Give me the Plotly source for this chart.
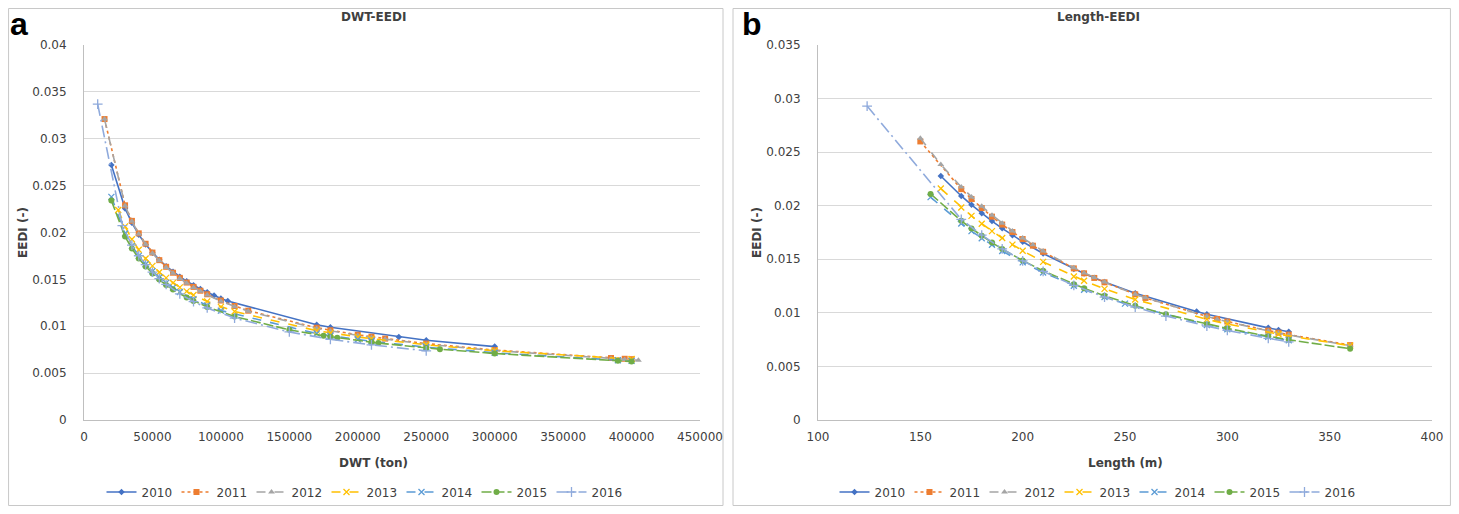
import plotly.graph_objects as go

# reference canvas 1459x514; the page body has an 8px margin, so the figure is 16px smaller
REF_W, REF_H = 1459, 514
OFF = 8
W, H = REF_W - 2 * OFF, REF_H - 2 * OFF

years = ["2010", "2011", "2012", "2013", "2014", "2015", "2016"]

# ---------------- Panel a : DWT - EEDI ----------------
dwt_2010 = [20000, 30000, 35000, 40000, 45000, 50000, 55000, 60000, 65000, 70000, 75000, 80000, 85000,
            90000, 95000, 100000, 105000, 170000, 180000, 230000, 250000, 300000]
eedi_a_2010 = [0.0272, 0.02257, 0.02103, 0.01977, 0.01873, 0.01785, 0.01708, 0.01641, 0.01581, 0.01529,
               0.01481, 0.01438, 0.01398, 0.01362, 0.01328, 0.01297, 0.01269, 0.01016, 0.00990, 0.00885,
               0.00851, 0.00783]

dwt_2011 = [15000, 30000, 35000, 40000, 45000, 50000, 55000, 60000, 65000, 70000, 75000, 80000, 85000,
            90000, 100000, 110000, 120000, 170000, 180000, 200000, 210000, 220000, 250000, 300000,
            385000, 395000, 400000]
eedi_a_2011 = [0.0321, 0.0229, 0.02124, 0.01991, 0.01880, 0.01786, 0.01705, 0.01634, 0.01571, 0.01516,
               0.01466, 0.01420, 0.01379, 0.01341, 0.01274, 0.01216, 0.01166, 0.00984, 0.00957, 0.00909,
               0.00888, 0.00868, 0.00815, 0.00746, 0.00661, 0.00653, 0.00649]

dwt_2012 = [15000, 30000, 35000, 40000, 45000, 50000, 55000, 60000, 65000, 70000, 75000, 80000, 85000,
            90000, 100000, 110000, 120000, 170000, 180000, 200000, 210000, 220000, 250000, 300000,
            385000, 395000, 405000]
eedi_a_2012 = [0.0321, 0.02286, 0.02119, 0.01985, 0.01874, 0.01779, 0.01698, 0.01627, 0.01565, 0.01509,
               0.01459, 0.01413, 0.01372, 0.01334, 0.01267, 0.01209, 0.01159, 0.00977, 0.00950, 0.00902,
               0.00881, 0.00861, 0.00809, 0.00740, 0.00655, 0.00646, 0.00638]

dwt_2013 = [25000, 30000, 35000, 40000, 45000, 50000, 55000, 60000, 65000, 70000, 75000, 80000, 90000,
            100000, 110000, 170000, 180000, 200000, 210000, 250000, 300000, 400000]
eedi_a_2013 = [0.0224, 0.02065, 0.01928, 0.01816, 0.01723, 0.01644, 0.01576, 0.01516, 0.01463, 0.01415,
               0.01372, 0.01333, 0.01265, 0.01207, 0.01157, 0.00953, 0.00929, 0.00886, 0.00867, 0.00802,
               0.00739, 0.00650]

dwt_2014 = [20000, 30000, 35000, 40000, 45000, 50000, 55000, 60000, 65000, 70000, 80000, 90000, 100000,
            170000, 180000, 200000, 210000, 250000, 300000, 390000, 400000]
eedi_a_2014 = [0.0238, 0.01989, 0.01857, 0.01751, 0.01662, 0.01586, 0.01520, 0.01463, 0.01412, 0.01366,
               0.01288, 0.01222, 0.01167, 0.00922, 0.00899, 0.00858, 0.00840, 0.00777, 0.00717, 0.00638,
               0.00631]

dwt_2015 = [20000, 30000, 35000, 40000, 45000, 50000, 55000, 60000, 65000, 75000, 80000, 90000, 110000,
            150000, 175000, 180000, 185000, 210000, 215000, 250000, 260000, 300000, 390000, 400000]
eedi_a_2015 = [0.0234, 0.01957, 0.01828, 0.01724, 0.01637, 0.01562, 0.01498, 0.01441, 0.01392, 0.01306,
               0.01270, 0.01206, 0.01103, 0.00962, 0.00899, 0.00888, 0.00877, 0.00830, 0.00821, 0.00768,
               0.00755, 0.00709, 0.00631, 0.00624]

dwt_2016 = [10000, 28000, 35000, 40000, 45000, 50000, 55000, 60000, 70000, 80000, 90000, 110000, 150000,
            180000, 210000, 250000]
eedi_a_2016 = [0.0337, 0.02073, 0.01866, 0.01752, 0.01657, 0.01577, 0.01507, 0.01447, 0.01345, 0.01263,
               0.01195, 0.01087, 0.00939, 0.00861, 0.00801, 0.00738]

# ---------------- Panel b : Length - EEDI ----------------
len_2010 = [160, 170, 175, 180, 185, 190, 195, 200, 210, 225, 230, 240, 255, 285, 290, 320, 325, 330]
eedi_b_2010 = [0.02277, 0.02091, 0.02008, 0.01930, 0.01857, 0.01789, 0.01725, 0.01664, 0.01554, 0.01410,
               0.01367, 0.01288, 0.01183, 0.01012, 0.00987, 0.00860, 0.00841, 0.00823]

len_2011 = [150, 170, 175, 180, 185, 190, 195, 200, 205, 210, 225, 230, 235, 240, 255, 260, 290, 295, 300,
            320, 325, 330, 360]
eedi_b_2011 = [0.02600, 0.02155, 0.02063, 0.01978, 0.01898, 0.01824, 0.01754, 0.01689, 0.01627, 0.01570,
               0.01415, 0.01369, 0.01326, 0.01285, 0.01173, 0.01139, 0.00967, 0.00943, 0.00919, 0.00834,
               0.00815, 0.00797, 0.00699]

len_2012 = [150, 160, 170, 175, 180, 185, 190, 195, 200, 205, 210, 225, 230, 235, 240, 255, 260, 290, 295,
            300, 320, 325, 330, 360]
eedi_b_2012 = [0.02630, 0.02385, 0.02174, 0.02081, 0.01994, 0.01912, 0.01836, 0.01765, 0.01698, 0.01636,
               0.01577, 0.01420, 0.01373, 0.01329, 0.01287, 0.01174, 0.01140, 0.00966, 0.00941, 0.00917,
               0.00831, 0.00812, 0.00793, 0.00695]

len_2013 = [160, 170, 175, 180, 185, 190, 195, 200, 210, 225, 230, 240, 255, 290, 300, 325, 360]
eedi_b_2013 = [0.02160, 0.01984, 0.01905, 0.01832, 0.01763, 0.01698, 0.01637, 0.01580, 0.01476, 0.01340,
               0.01300, 0.01224, 0.01125, 0.00939, 0.00896, 0.00801, 0.00694]

len_2014 = [155, 170, 175, 180, 185, 190, 200, 210, 225, 230, 240, 250, 290, 300, 320, 330]
eedi_b_2014 = [0.02080, 0.01834, 0.01763, 0.01697, 0.01635, 0.01577, 0.01471, 0.01376, 0.01253, 0.01216,
               0.01148, 0.01086, 0.00887, 0.00847, 0.00776, 0.00744]

len_2015 = [155, 170, 175, 180, 185, 190, 200, 210, 225, 230, 240, 255, 270, 290, 300, 320, 330, 360]
eedi_b_2015 = [0.02110, 0.01859, 0.01787, 0.01719, 0.01656, 0.01596, 0.01488, 0.01392, 0.01266, 0.01229,
               0.01159, 0.01067, 0.00986, 0.00894, 0.00854, 0.00782, 0.00749, 0.00665]

len_2016 = [124, 170, 180, 190, 200, 210, 225, 240, 255, 270, 290, 300, 320, 330]
eedi_b_2016 = [0.02930, 0.01872, 0.01726, 0.01598, 0.01486, 0.01387, 0.01257, 0.01147, 0.01053, 0.00970,
               0.00877, 0.00836, 0.00762, 0.00730]

x_a_ticks = [0, 50000, 100000, 150000, 200000, 250000, 300000, 350000, 400000, 450000]
y_a_ticks = [0, 0.005, 0.01, 0.015, 0.02, 0.025, 0.03, 0.035, 0.04]
x_b_ticks = [100, 150, 200, 250, 300, 350, 400]
y_b_ticks = [0, 0.005, 0.01, 0.015, 0.02, 0.025, 0.03, 0.035]

# ---------------- styling ----------------
styles = {
    "2010": dict(color="#4472C4", dash="solid", symbol="diamond", msize=5),
    "2011": dict(color="#ED7D31", dash="dot", symbol="square", msize=6),
    "2012": dict(color="#A5A5A5", dash="dash", symbol="triangle-up", msize=6),
    "2013": dict(color="#FFC000", dash="dash", symbol="x-thin", msize=6),
    "2014": dict(color="#5B9BD5", dash="dash", symbol="x-thin", msize=6),
    "2015": dict(color="#70AD47", dash="10px,3px", symbol="circle", msize=6),
    "2016": dict(color="#8FAADC", dash="12px,4px,2px,4px", symbol="cross-thin", msize=7),
}

FONT = "DejaVu Sans"
TXT = "#404040"


def px_x(p):
    return min(max((p - OFF) / W, 0), 1)


def px_y(p):
    return min(max(1 - (p - OFF) / H, 0), 1)


panel_a = {"2010": (dwt_2010, eedi_a_2010), "2011": (dwt_2011, eedi_a_2011), "2012": (dwt_2012, eedi_a_2012),
           "2013": (dwt_2013, eedi_a_2013), "2014": (dwt_2014, eedi_a_2014), "2015": (dwt_2015, eedi_a_2015),
           "2016": (dwt_2016, eedi_a_2016)}
panel_b = {"2010": (len_2010, eedi_b_2010), "2011": (len_2011, eedi_b_2011), "2012": (len_2012, eedi_b_2012),
           "2013": (len_2013, eedi_b_2013), "2014": (len_2014, eedi_b_2014), "2015": (len_2015, eedi_b_2015),
           "2016": (len_2016, eedi_b_2016)}

fig = go.Figure()


def add(series, xa, ya, leg):
    for y in years:
        xs, ys = series[y]
        s = styles[y]
        thin = s["symbol"].endswith("thin")
        fig.add_trace(go.Scatter(
            x=xs, y=ys, name=y, mode="lines+markers",
            xaxis=xa, yaxis=ya, legend=leg,
            line=dict(color=s["color"], width=1.6, dash=s["dash"]),
            marker=dict(symbol=s["symbol"], size=s["msize"], color=s["color"],
                        line=dict(color=s["color"], width=1.3 if thin else 0)),
        ))


add(panel_a, "x", "y", "legend")
add(panel_b, "x2", "y2", "legend2")

ax_common = dict(showline=True, linecolor="#BFBFBF", linewidth=1, zeroline=False, ticks="",
                 automargin=False, tickfont=dict(family=FONT, size=12, color=TXT))

fig.update_layout(
    width=W, height=H,
    margin=dict(l=0, r=0, t=0, b=0, pad=0, autoexpand=False),
    paper_bgcolor="white", plot_bgcolor="white",
    font=dict(family=FONT, size=12, color=TXT),
    xaxis=dict(domain=[px_x(84), px_x(700)], range=[0, 450000], tickvals=x_a_ticks,
               ticktext=[str(v) for v in x_a_ticks], showgrid=False, anchor="y",
               ticklabelstandoff=6, **ax_common),
    yaxis=dict(domain=[px_y(420), px_y(45)], range=[0, 0.04], tickvals=y_a_ticks,
               ticktext=[f"{v:g}" for v in y_a_ticks], showgrid=True, gridcolor="#D9D9D9",
               anchor="x", ticklabelstandoff=14, **ax_common),
    xaxis2=dict(domain=[px_x(818), px_x(1432)], range=[100, 400], tickvals=x_b_ticks,
                ticktext=[str(v) for v in x_b_ticks], showgrid=False, anchor="y2",
                ticklabelstandoff=6, **ax_common),
    yaxis2=dict(domain=[px_y(420), px_y(45)], range=[0, 0.035], tickvals=y_b_ticks,
                ticktext=[f"{v:g}" for v in y_b_ticks], showgrid=True, gridcolor="#D9D9D9",
                anchor="x2", ticklabelstandoff=14, **ax_common),
    legend=dict(orientation="h", x=px_x(364), xanchor="center", y=px_y(492), yanchor="middle",
                font=dict(family=FONT, size=12, color=TXT), bgcolor="rgba(0,0,0,0)",
                entrywidth=30, entrywidthmode="pixels", itemwidth=30, tracegroupgap=0),
    legend2=dict(orientation="h", x=px_x(1097), xanchor="center", y=px_y(492), yanchor="middle",
                 font=dict(family=FONT, size=12, color=TXT), bgcolor="rgba(0,0,0,0)",
                 entrywidth=30, entrywidthmode="pixels", itemwidth=30, tracegroupgap=0),
    showlegend=True,
)

# panel frames
fig.add_shape(type="rect", xref="paper", yref="paper", x0=px_x(1) + 0.0004, x1=px_x(723), y0=px_y(512) + 0.001,
              y1=px_y(1) - 0.001, line=dict(color="#C8C8C8", width=1), fillcolor="rgba(0,0,0,0)", layer="below")
fig.add_shape(type="rect", xref="paper", yref="paper", x0=px_x(733), x1=px_x(1458) - 0.0004, y0=px_y(512) + 0.001,
              y1=px_y(1) - 0.001, line=dict(color="#C8C8C8", width=1), fillcolor="rgba(0,0,0,0)", layer="below")


def ann(text, x, y, size=12, bold=True, angle=0, color=TXT, family=FONT):
    fig.add_annotation(text=f"<b>{text}</b>" if bold else text, xref="paper", yref="paper",
                       x=px_x(x), y=px_y(y), xanchor="center", yanchor="middle", showarrow=False,
                       textangle=angle, font=dict(family=family, size=size, color=color))


ann("DWT-EEDI", 373, 17)
ann("Length-EEDI", 1098, 17)
ann("DWT (ton)", 373, 463)
ann("Length (m)", 1125, 463)
ann("EEDI (-)", 23, 233, angle=-90)
ann("EEDI (-)", 757, 233, angle=-90)
ann("a", 19, 24, size=32, color="black", family="Liberation Sans")
ann("b", 752, 24, size=32, color="black", family="Liberation Sans")

fig.write_html("out.html", config={"displayModeBar": False})
